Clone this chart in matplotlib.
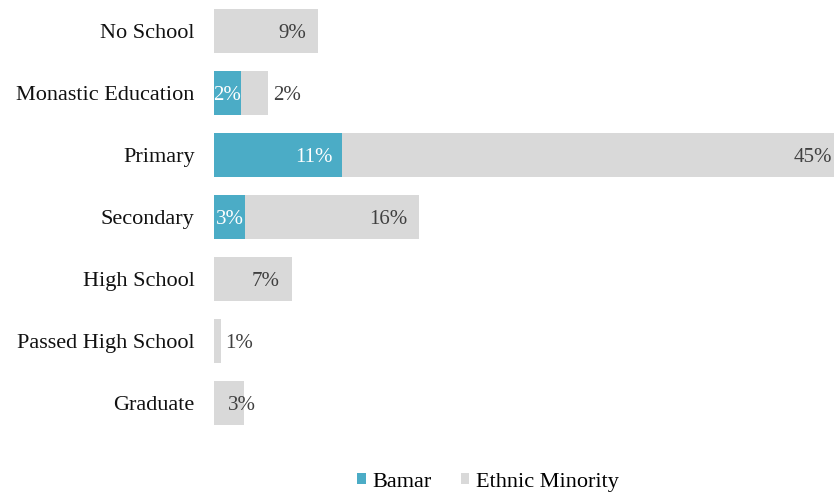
import numpy as np
import matplotlib.pyplot as plt

plt.rcParams['font.family'] = ['Liberation Serif', 'DejaVu Serif']

categories = ["No School", "Monastic Education", "Primary", "Secondary",
              "High School", "Passed High School", "Graduate"]
bamar = [0, 2.4, 11.6, 2.8, 0, 0, 0]
ethnic = [9.4, 2.5, 44.4, 15.7, 7.0, 0.6, 2.7]
bamar_labels = ["", "2%", "11%", "3%", "", "", ""]
ethnic_labels = ["9%", "2%", "45%", "16%", "7%", "1%", "3%"]

blue = "#4BACC6"
grey = "#D9D9D9"

fig = plt.figure(figsize=(8.34, 4.93), dpi=100)
ax = fig.add_axes([214 / 834, 59 / 493, 620 / 834, 434 / 493])

y = np.arange(len(categories))
ax.barh(y, bamar, height=0.72, color=blue, label="Bamar")
ax.barh(y, ethnic, left=bamar, height=0.72, color=grey, label="Ethnic Minority")

for i in range(len(categories)):
    if bamar_labels[i]:
        if bamar[i] < 4:
            ax.text(bamar[i] / 2, i, bamar_labels[i], ha='center', va='center_baseline',
                    color='white', fontsize=15)
        else:
            ax.text(bamar[i] - 0.9, i, bamar_labels[i], ha='right', va='center_baseline',
                    color='white', fontsize=15)
    end = bamar[i] + ethnic[i]
    if ethnic[i] < 2.6:
        ax.text(end + 0.45, i, ethnic_labels[i], ha='left', va='center_baseline',
                color='#404040', fontsize=15)
    elif ethnic[i] < 4:
        ax.text(end + 1.1, i, ethnic_labels[i], ha='right', va='center_baseline',
                color='#404040', fontsize=15)
    elif end >= 55:
        # label of the longest bar sits right at the chart edge
        ax.text(end - 0.15, i, ethnic_labels[i], ha='right', va='center_baseline',
                color='#404040', fontsize=15)
    else:
        ax.text(end - 1.05, i, ethnic_labels[i], ha='right', va='center_baseline',
                color='#404040', fontsize=15)

ax.set_xlim(0, 56)
ax.set_ylim(6.5, -0.5)
ax.set_yticks(y)
ax.set_yticklabels(categories, fontsize=16, color='#111111')
ax.tick_params(axis='y', length=0, pad=14)
ax.set_xticks([])
for s in ax.spines.values():
    s.set_visible(False)

fig.legend(loc='center', bbox_to_anchor=(0.585, 0.022), ncol=2, frameon=False,
           fontsize=16, handlelength=0.4, handleheight=0.4, handletextpad=0.3,
           columnspacing=1.3)

fig.savefig("out.png", dpi=100)
